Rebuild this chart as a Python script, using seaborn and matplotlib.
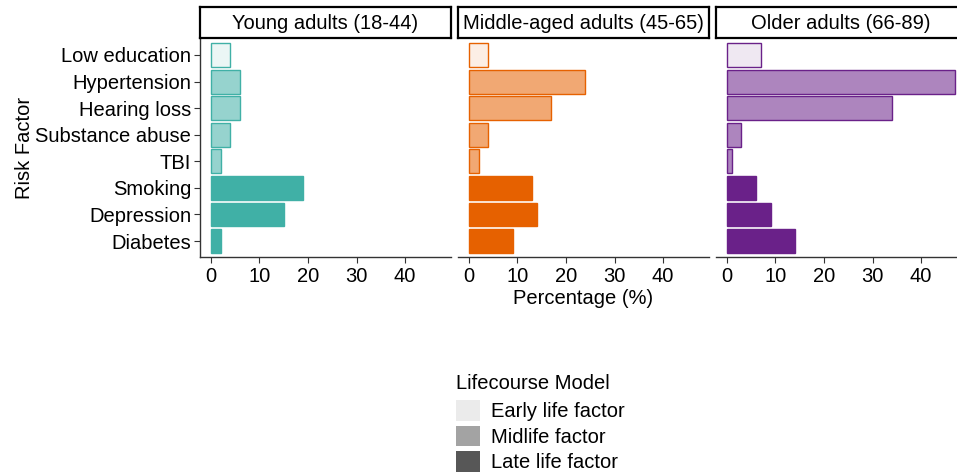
import matplotlib
matplotlib.use("Agg")
import matplotlib.pyplot as plt
from matplotlib.patches import Patch
import seaborn as sns

# Data (percentages)
factors = ["Low education", "Hypertension", "Hearing loss", "Substance abuse",
           "TBI", "Smoking", "Depression", "Diabetes"]
stage = ["early", "mid", "mid", "mid", "mid", "late", "late", "late"]
groups = ["Young adults (18-44)", "Middle-aged adults (45-65)", "Older adults (66-89)"]
young = [4, 6, 6, 4, 2, 19, 15, 2]
middle = [4, 24, 17, 4, 2, 13, 14, 9]
older = [7, 47, 34, 3, 1, 6, 9, 14]
group_colors = ["#40B0A6", "#E66100", "#6A2189"]
stage_alpha = {"early": 0.1, "mid": 0.55, "late": 1.0}
legend_labels = ["Early life factor", "Midlife factor", "Late life factor"]
legend_colors = ["#EBEBEB", "#A3A3A3", "#575757"]
xticks = [0, 10, 20, 30, 40]

sns.set_style("white")
plt.rcParams["font.family"] = ["Liberation Sans", "DejaVu Sans"]
plt.rcParams["text.color"] = "black"
plt.rcParams["axes.labelcolor"] = "black"
FS = 14.5

W, H = 957, 476
fig = plt.figure(figsize=(W / 100, H / 100), dpi=100)

lefts = [199.5, 457.5, 715.5]
pw = 251
top, bottom = 39, 257
strip_top = 7

for i, (name, vals, col) in enumerate(zip(groups, [young, middle, older], group_colors)):
    ax = fig.add_axes([lefts[i] / W, (H - bottom) / H, pw / W, (bottom - top) / H])
    sns.barplot(x=vals, y=factors, ax=ax, color=col, width=0.9, orient="h")
    for p, s in zip(ax.patches, stage):
        p.set_facecolor(matplotlib.colors.to_rgba(col, stage_alpha[s]))
        p.set_edgecolor(col)
        p.set_linewidth(1.0)
    ax.set_xlim(-2.35, 49.35)
    ax.set_ylim(7.6, -0.6)
    ax.set_xticks(xticks)
    ax.set_xlabel("")
    ax.set_ylabel("")
    ax.tick_params(axis="x", labelsize=FS, length=4, width=0.8, color="#333333",
                   labelcolor="black", direction="out", bottom=True, pad=3)
    for sp in ["top", "right"]:
        ax.spines[sp].set_visible(False)
    ax.spines["bottom"].set_color("#333333")
    ax.spines["bottom"].set_linewidth(1.0)
    if i == 0:
        ax.spines["left"].set_color("#333333")
        ax.spines["left"].set_linewidth(1.0)
        ax.tick_params(axis="y", labelsize=FS, length=4, width=0.8, color="#333333",
                       labelcolor="black", direction="out", left=True, pad=2)
        ax.set_ylabel("Risk Factor", fontsize=FS, labelpad=1)
    else:
        ax.spines["left"].set_visible(False)
        ax.tick_params(axis="y", left=False, labelleft=False)
    if i == 1:
        ax.set_xlabel("Percentage (%)", fontsize=FS, labelpad=2)

    # facet strip
    sax = fig.add_axes([lefts[i] / W, (H - top + 1) / H, pw / W, (top - 1 - strip_top) / H])
    sax.set_xticks([])
    sax.set_yticks([])
    for sp in sax.spines.values():
        sp.set_visible(True)
        sp.set_color("black")
        sp.set_linewidth(1.6)
    sax.text(0.5, 0.47, name, ha="center", va="center", fontsize=FS,
             transform=sax.transAxes)

handles = [Patch(facecolor=c, edgecolor="none", label=l)
           for c, l in zip(legend_colors, legend_labels)]
leg = fig.legend(handles=handles, title="Lifecourse Model", loc="upper left",
                 bbox_to_anchor=(448 / W, (H - 366) / H), frameon=False,
                 fontsize=FS, title_fontsize=FS, handlelength=1.2,
                 handleheight=1.2, labelspacing=0.22, handletextpad=0.55,
                 borderaxespad=0)
leg._legend_box.align = "left"
leg._legend_box.sep = 5

fig.savefig("out.png", dpi=100)
